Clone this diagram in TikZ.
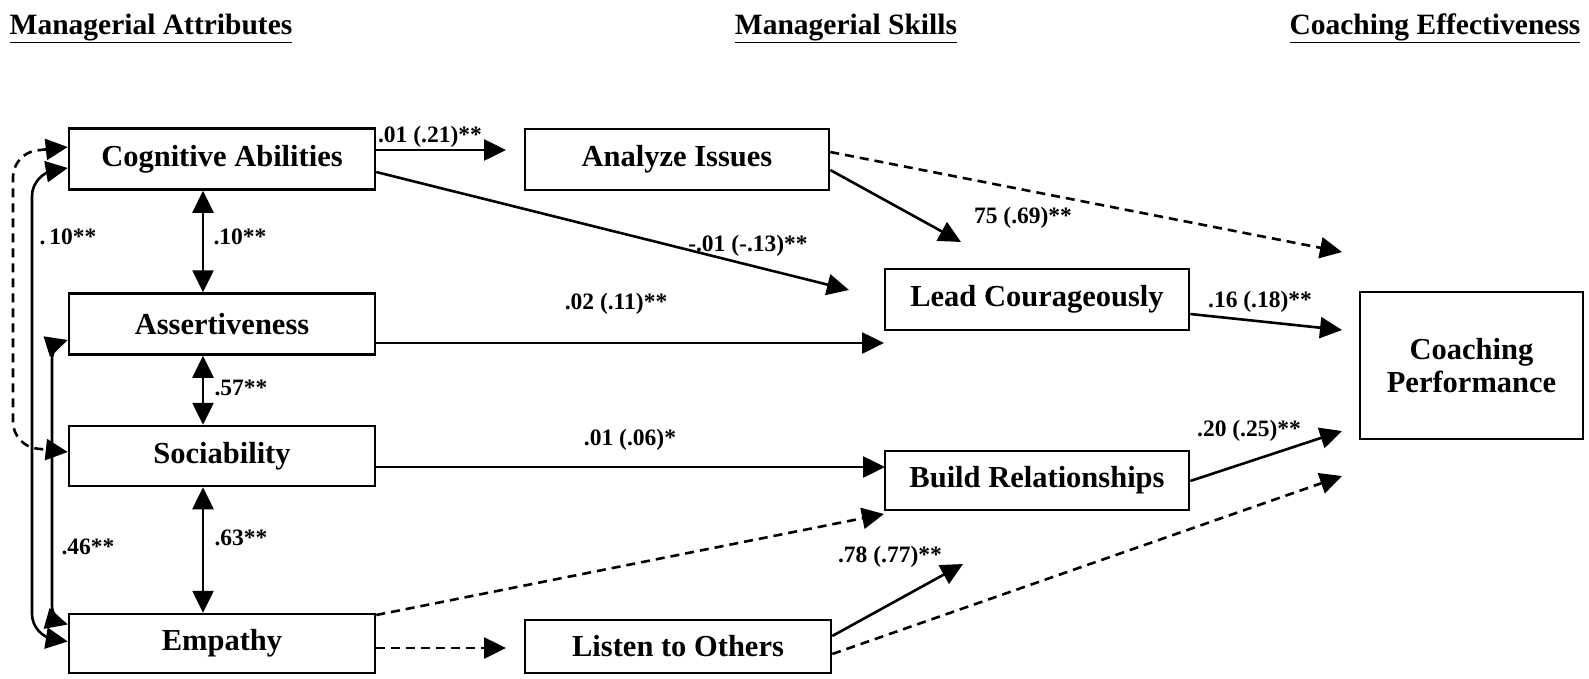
\documentclass[tikz,border=0pt]{standalone}
\usepackage{fontspec}
\setmainfont{Liberation Serif}
\usetikzlibrary{arrows.meta}
\begin{document}
\begin{tikzpicture}[x=1pt,y=-1pt,
  Tri/.tip={Triangle[length=22pt,width=21pt]},
  box/.style={draw,line width=2.5pt,inner sep=0pt,font=\fontsize{30.5}{33}\selectfont\bfseries},
  conn/.style={line width=2.6pt,-Tri},
  dconn/.style={conn,dash pattern=on 9pt off 6pt},
  dbl/.style={line width=2.6pt,Tri-Tri},
  lab/.style={font=\fontsize{23.5}{25}\selectfont\bfseries,inner sep=0pt},
  ttl/.style={font=\fontsize{29.5}{32}\selectfont\bfseries,inner sep=0pt,anchor=base}]
\useasboundingbox (0,0) rectangle (1589,678);

% titles
\node[ttl] (h1) at (151,34) {\underline{Managerial Attributes}};
\node[ttl] (h2) at (846,34) {\underline{Managerial Skills}};
\node[ttl] (h3) at (1435,34) {\underline{Coaching Effectiveness}};

% boxes
\node[box,minimum width=306pt,minimum height=61pt] (cog) at (222,159) {Cognitive Abilities};
\node[box,minimum width=306pt,minimum height=61pt] (ass) at (222,324) {Assertiveness};
\node[box,minimum width=306pt,minimum height=60pt] (soc) at (222,456) {Sociability};
\node[box,minimum width=306pt,minimum height=59pt] (emp) at (222,643.5) {Empathy};
\node[box,minimum width=304pt,minimum height=61pt] (ana) at (677,159.5) {Analyze Issues};
\node[box,minimum width=304pt,minimum height=61pt] (lead) at (1037,299.5) {Lead Courageously};
\node[box,minimum width=304pt,minimum height=59pt] (build) at (1037,480.5) {Build Relationships};
\node[box,minimum width=306pt,minimum height=53pt] (listen) at (678,646.5) {Listen to Others};
\node[box,minimum width=223pt,minimum height=147pt,align=center] (coach) at (1471.5,365.5) {Coaching\\Performance};

% free arrow ends
\coordinate (t1) at (506,150);
\coordinate (t2) at (849,290);
\coordinate (t3) at (961,242);
\coordinate (t4) at (1342,252);
\coordinate (t5) at (884,343);
\coordinate (t6) at (1342,330);
\coordinate (t7) at (885,467);
\coordinate (t8) at (1342,431);
\coordinate (t9) at (884,514);
\coordinate (t10) at (506,648);
\coordinate (t11) at (963,564);
\coordinate (t12) at (1342,476);

% left correlations
\draw[dbl,dash pattern=on 9pt off 6pt,rounded corners=24pt] ([yshift=12pt]cog.west) -- (13,153) -- (13,446) -- ([yshift=4pt]soc.west);
\draw[dbl,rounded corners=22pt] ([yshift=-9pt]cog.west) -- (32,174) -- (32,636) -- ([yshift=2pt]emp.west);
\draw[dbl,rounded corners=14pt] ([yshift=-16pt]ass.west) -- (52,345) -- (52,620) -- ([yshift=19pt]emp.west);
\node[lab] (l10b) at (68,237) {.\,10**};
\node[lab] (l46) at (88,547) {.46**};

% vertical correlations
\draw[dbl] ([xshift=-19pt]cog.south) -- ([xshift=-19pt]ass.north);
\draw[dbl] ([xshift=-19pt]ass.south) -- ([xshift=-19pt]soc.north);
\draw[dbl] ([xshift=-19pt]soc.south) -- ([xshift=-19pt]emp.north);
\node[lab] (l10) at (240,237) {.10**};
\node[lab] (l57) at (241,388) {.57**};
\node[lab] (l63) at (241,538) {.63**};

% paths
\draw[conn] (cog.east |- 0,150) -- (t1);
\draw[conn] (cog.east |- 0,172) -- (t2);
\draw[conn] (ana.east |- 0,170) -- (t3);
\draw[dconn] (ana.east |- 0,152) -- (t4);
\draw[conn] (ass.east |- 0,343) -- (t5);
\draw[conn] (lead.east |- 0,314) -- (t6);
\draw[conn] (soc.east |- 0,467) -- (t7);
\draw[conn] (build.east |- 0,481) -- (t8);
\draw[dconn] (emp.east |- 0,615) -- (t9);
\draw[dconn] (emp.east |- 0,648) -- (t10);
\draw[conn] (listen.east |- 0,636) -- (t11);
\draw[dconn] (listen.east |- 0,654) -- (t12);

% path labels
\node[lab] (a1) at (430,137) {.01 (.21)**};
\node[lab] (a2) at (748,246) {-.01 (-.13)**};
\node[lab] (a3) at (1023,218) {75 (.69)**};
\node[lab] (a5) at (616,304) {.02 (.11)**};
\node[lab] (a6) at (1260,302) {.16 (.18)**};
\node[lab] (a7) at (630,440) {.01 (.06)*};
\node[lab] (a8) at (1249,431) {.20 (.25)**};
\node[lab] (a11) at (890,557) {.78 (.77)**};
\end{tikzpicture}
\end{document}
